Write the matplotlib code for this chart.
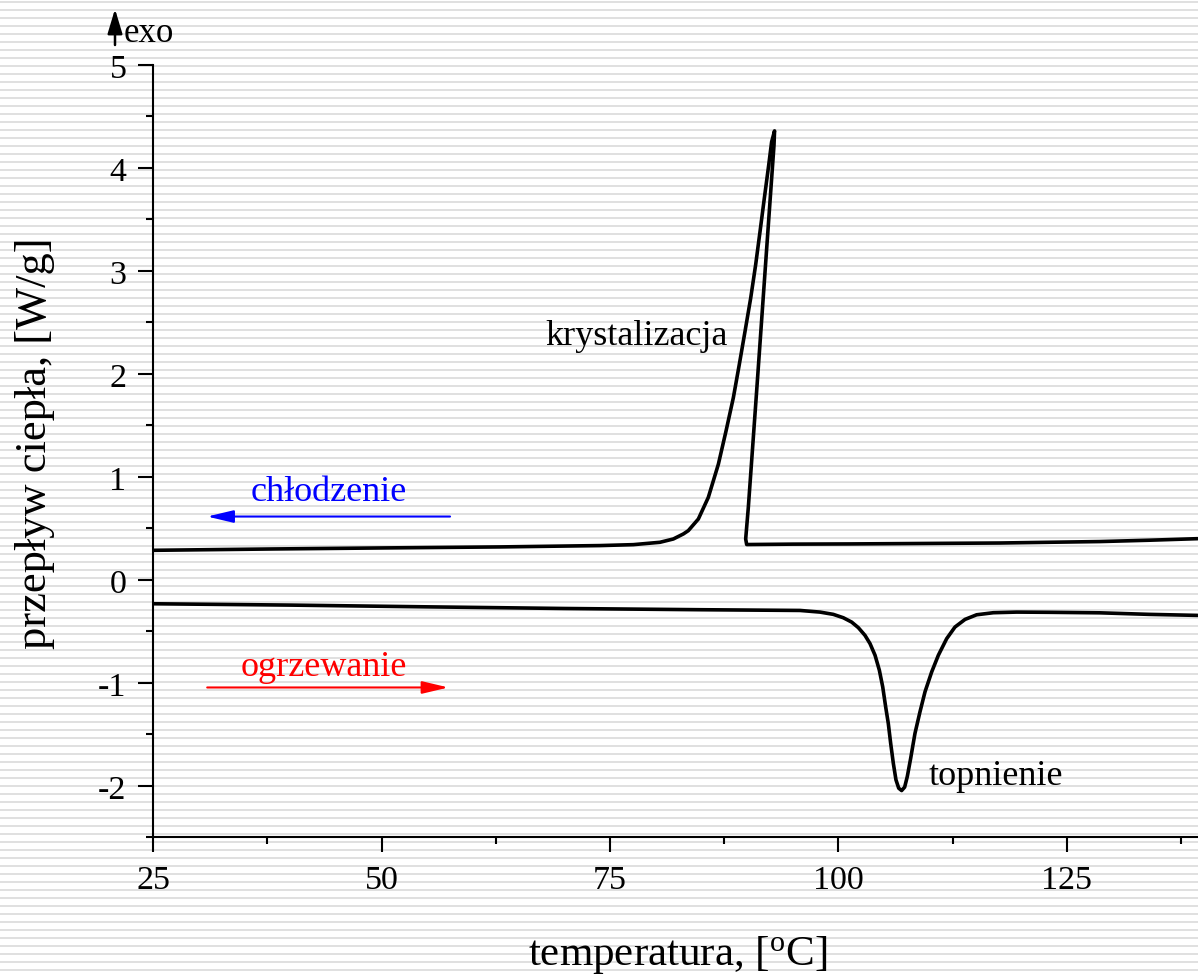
import numpy as np
import matplotlib
matplotlib.use("Agg")
import matplotlib.pyplot as plt
from matplotlib.ticker import MultipleLocator

plt.rcParams['font.family'] = ['Liberation Serif', 'DejaVu Serif']
plt.rcParams['axes.unicode_minus'] = False

# ---- data ----
# cooling run (traversed from high to low temperature)
cool_T = [139.3, 134.0, 128.6, 123.0, 117.7, 112.0, 106.8, 101.3, 95.0, 89.95,
          89.84, 90.13, 91.04, 92.14, 92.94, 93.0,
          92.68, 92.36, 91.88, 91.41, 90.93, 90.39, 89.77, 89.14, 88.49, 87.69,
          86.85, 85.75, 84.66, 83.56, 83.02, 81.92, 80.46, 77.54, 73.89,
          63.0, 50.0, 38.0, 25.0]
cool_Q = [0.40, 0.385, 0.372, 0.365, 0.358, 0.355, 0.352, 0.349, 0.347, 0.343,
          0.397, 0.704, 1.833, 3.22, 4.221, 4.36,
          4.253, 4.027, 3.705, 3.382, 3.059, 2.737, 2.414, 2.091, 1.769, 1.446,
          1.123, 0.801, 0.591, 0.478, 0.446, 0.397, 0.365, 0.342, 0.333,
          0.32, 0.31, 0.30, 0.287]

# heating run
heat_T = [25.0, 40.0, 55.0, 70.0, 85.0, 95.79, 97.98, 99.43, 100.53, 101.44,
          102.17, 102.90, 103.45, 104.0, 104.47, 104.84, 105.16, 105.45, 105.71, 106.0,
          106.29, 106.59, 106.91, 107.24, 107.53, 107.90, 108.37, 108.92, 109.47, 110.20,
          110.93, 111.84, 112.75, 113.85, 115.12, 116.95, 119.5, 123.0, 128.6, 134.0,
          139.3]
heat_Q = [-0.232, -0.245, -0.262, -0.278, -0.29, -0.297, -0.313, -0.335, -0.368, -0.410,
          -0.464, -0.539, -0.619, -0.732, -0.877, -1.039, -1.232, -1.394, -1.587, -1.781,
          -1.942, -2.023, -2.046, -2.013, -1.91, -1.733, -1.491, -1.281, -1.087, -0.894,
          -0.732, -0.571, -0.458, -0.384, -0.339, -0.319, -0.313, -0.315, -0.32, -0.335,
          -0.345]

x_ticks = [25, 50, 75, 100, 125]
y_ticks = [-2, -1, 0, 1, 2, 3, 4, 5]

W, H = 1198, 978
fig = plt.figure(figsize=(W / 100, H / 100), dpi=100, facecolor='white')

# striped background
bg = fig.add_axes([0, 0, 1, 1], zorder=-10)
bg.set_xlim(0, W)
bg.set_ylim(H, 0)
bg.axis('off')
for yy in np.arange(2.7, H, 8.0):
    bg.axhline(yy, color='#dadada', lw=1.2)

left_px, right_px, top_px, bottom_px = 153.3, 1198.0, 66.0, 838.3
ax = fig.add_axes([left_px / W, 1 - bottom_px / H, (right_px - left_px) / W,
                   (bottom_px - top_px) / H])
ax.patch.set_alpha(0)

ax.plot(cool_T, cool_Q, color='black', lw=2.6, solid_joinstyle='round',
        solid_capstyle='round')
ax.plot(heat_T, heat_Q, color='black', lw=2.6, solid_joinstyle='round',
        solid_capstyle='round')

ax.set_xlim(25, 139.35)
ax.set_ylim(-2.5, 5)
ax.set_xticks(x_ticks)
ax.set_yticks(y_ticks)
ax.xaxis.set_minor_locator(MultipleLocator(12.5))
ax.yaxis.set_minor_locator(MultipleLocator(0.5))

for s in ['top', 'right']:
    ax.spines[s].set_visible(False)
for s in ['left', 'bottom']:
    ax.spines[s].set_linewidth(1.5)

ax.tick_params(which='major', direction='out', length=10.8, width=1.5, labelsize=24.5)
ax.tick_params(which='minor', direction='out', length=5.2, width=1.5)
ax.tick_params(axis='x', which='major', pad=9)
ax.tick_params(axis='y', which='major', pad=8.5)

ax.set_xlabel('temperatura, [$\\mathregular{^{o}}$C]', fontsize=31)
ax.set_ylabel('przepływ ciepła, [W/g]', fontsize=32)
ax.xaxis.set_label_coords(0.502, -0.124)
ax.yaxis.set_label_coords(-0.094, 0.512)

# annotations
ax.text(67.9, 2.29, 'krystalizacja', fontsize=26, ha='left', va='baseline')
ax.text(35.66, 0.774, 'chłodzenie', fontsize=26, color='blue', ha='left', va='baseline')
ax.text(34.57, -0.92, 'ogrzewanie', fontsize=26, color='red', ha='left', va='baseline')
ax.text(109.83, -1.98, 'topnienie', fontsize=26, ha='left', va='baseline')

ax.annotate('', xy=(30.9, 0.615), xytext=(57.48, 0.615),
            arrowprops=dict(arrowstyle='-|>,head_length=1.6,head_width=0.38',
                            mutation_scale=10, color='blue', lw=1.5,
                            shrinkA=0, shrinkB=0))
ax.annotate('', xy=(57.3, -1.045), xytext=(30.9, -1.045),
            arrowprops=dict(arrowstyle='-|>,head_length=1.6,head_width=0.38',
                            mutation_scale=10, color='red', lw=1.5,
                            shrinkA=0, shrinkB=0))

# exo marker above the y axis
fig.patches.append(matplotlib.patches.FancyArrowPatch(
    (115 / W, 1 - 46 / H), (115 / W, 1 - 10 / H), transform=fig.transFigure,
    arrowstyle='-|>,head_length=1.5,head_width=0.45', mutation_scale=10,
    color='black', lw=1.8, shrinkA=0, shrinkB=0))
fig.text(124 / W, 1 - 41.7 / H, 'exo', fontsize=25, ha='left', va='baseline')

fig.savefig('out.png', dpi=100, facecolor='white')
